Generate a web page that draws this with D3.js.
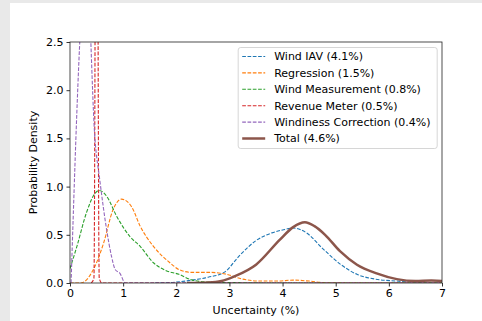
<!DOCTYPE html>
<html>
<head>
<meta charset="utf-8">
<script src="https://cdn.jsdelivr.net/npm/d3@7"></script>
<style>
  html, body { margin: 0; padding: 0; background: #e9e9e9; }
  #chart { position: absolute; left: 10px; top: 3px; width: 472px; height: 318px; background: #fff; }
  text { font-family: "DejaVu Sans", sans-serif; fill: #000; }
</style>
</head>
<body>
<div id="chart"></div>
<script>
// Density curves: [uncertainty %, density]
const windIAV = [[1.6,0],[2.0,0.01],[2.3,0.03],[2.6,0.06],[2.9,0.11],[3.2,0.29],[3.5,0.44],[3.8,0.52],[4.0,0.55],[4.2,0.57],[4.45,0.52],[4.75,0.36],[5.1,0.19],[5.4,0.09],[5.75,0.04],[6.15,0.02],[6.6,0.005],[7,0]];
const regression = [[0,0],[0.2,0],[0.44,0.14],[0.63,0.41],[0.81,0.76],[0.97,0.87],[1.16,0.79],[1.32,0.59],[1.57,0.38],[1.88,0.21],[2.05,0.14],[2.3,0.11],[2.65,0.11],[2.95,0.09],[3.25,0.04],[3.6,0.02],[3.9,0.02],[4.2,0.03],[4.5,0.02],[4.8,0.003],[5.5,0],[7,0]];
const windMeasurement = [[0,0.15],[0.13,0.38],[0.31,0.73],[0.47,0.93],[0.55,0.96],[0.69,0.9],[0.88,0.69],[1.13,0.48],[1.32,0.38],[1.57,0.21],[1.8,0.13],[2.05,0.09],[2.3,0.03],[2.6,0.01],[3.0,0.005],[4.0,0],[7,0]];
const revenueMeter = [[0.4,0],[0.45,0.05],[0.47,2.3],[0.5,12],[0.53,2.3],[0.55,0.05],[0.6,0],[7,0]];
const windinessCorrection = [[0.02,0],[0.31,3.3],[0.47,1.49],[0.56,1.07],[0.69,0.55],[0.78,0.28],[0.85,0.14],[0.94,0.1],[1.04,0],[7,0]];
const total = [[2.2,0],[2.6,0.005],[2.85,0.02],[3.1,0.07],[3.5,0.19],[3.95,0.45],[4.2,0.58],[4.42,0.63],[4.6,0.59],[4.8,0.5],[5.08,0.33],[5.4,0.19],[5.77,0.1],[6.15,0.04],[6.5,0.02],[6.8,0.025],[7,0.02]];

const seriesNames = ["Wind IAV (4.1%)", "Regression (1.5%)", "Wind Measurement (0.8%)", "Revenue Meter (0.5%)", "Windiness Correction (0.4%)", "Total (4.6%)"];
const seriesData = [windIAV, regression, windMeasurement, revenueMeter, windinessCorrection, total];
const seriesColors = ["#1f77b4", "#ff7f0e", "#2ca02c", "#d62728", "#9467bd", "#8c564b"];
const xTicks = [0, 1, 2, 3, 4, 5, 6, 7];
const yTicks = [0, 0.5, 1.0, 1.5, 2.0, 2.5];

const width = 472, height = 318;
const margin = {left: 60, top: 39};
const plotW = 372, plotH = 241;
const fontSize = 11;

const svg = d3.select("#chart").append("svg")
  .attr("width", width).attr("height", height);

const g = svg.append("g").attr("transform", `translate(${margin.left},${margin.top})`);

const x = d3.scaleLinear().domain([0, 7]).range([0, plotW]);
const y = d3.scaleLinear().domain([0, 2.5]).range([plotH, 0]);

svg.append("defs").append("clipPath").attr("id", "clip")
  .append("rect").attr("width", plotW).attr("height", plotH);

const line = d3.line()
  .x(d => x(d[0]))
  .y(d => y(d[1]))
  .curve(d3.curveMonotoneX);

const lines = g.append("g").attr("clip-path", "url(#clip)");
seriesData.forEach((data, i) => {
  const isTotal = i === 5;
  lines.append("path")
    .datum(data)
    .attr("fill", "none")
    .attr("stroke", seriesColors[i])
    .attr("stroke-width", isTotal ? 2.5 : 1.1)
    .attr("stroke-dasharray", isTotal ? null : "3.7,1.6")
    .attr("d", line);
});

// Axes
const xAxis = g.append("g")
  .attr("transform", `translate(0,${plotH})`)
  .call(d3.axisBottom(x).tickValues(xTicks).tickSize(3.5).tickPadding(3).tickFormat(d3.format("d")));
const yAxis = g.append("g")
  .call(d3.axisLeft(y).tickValues(yTicks).tickSize(3.5).tickPadding(3).tickFormat(d3.format(".1f")));
[xAxis, yAxis].forEach(a => {
  a.select(".domain").remove();
  a.selectAll("line").attr("stroke", "#000").attr("stroke-width", 0.8);
  a.selectAll("text").attr("font-size", fontSize).attr("font-family", "DejaVu Sans").attr("fill", "#000");
});

g.append("rect")
  .attr("width", plotW).attr("height", plotH)
  .attr("fill", "none").attr("stroke", "#222").attr("stroke-width", 0.8);

g.append("text")
  .attr("x", plotW / 2).attr("y", plotH + 31)
  .attr("text-anchor", "middle").attr("font-size", fontSize)
  .text("Uncertainty (%)");

g.append("text")
  .attr("transform", `translate(-33,${plotH / 2}) rotate(-90)`)
  .attr("text-anchor", "middle").attr("font-size", fontSize)
  .text("Probability Density");

// Legend
const legend = g.append("g").attr("transform", `translate(${x(3.165)},5.5)`);
legend.append("rect")
  .attr("width", 199).attr("height", 101).attr("rx", 2.5)
  .attr("fill", "#fff").attr("fill-opacity", 0.8)
  .attr("stroke", "#ccc").attr("stroke-width", 0.8);
seriesNames.forEach((name, i) => {
  const row = legend.append("g").attr("transform", `translate(0,${9 + i * 16.4})`);
  row.append("line")
    .attr("x1", 4).attr("x2", 27)
    .attr("stroke", seriesColors[i])
    .attr("stroke-width", i === 5 ? 2.5 : 1.1)
    .attr("stroke-dasharray", i === 5 ? null : "3.7,1.6");
  row.append("text")
    .attr("x", 36).attr("dy", "0.35em")
    .attr("font-size", fontSize)
    .text(name);
});
</script>
</body>
</html>
